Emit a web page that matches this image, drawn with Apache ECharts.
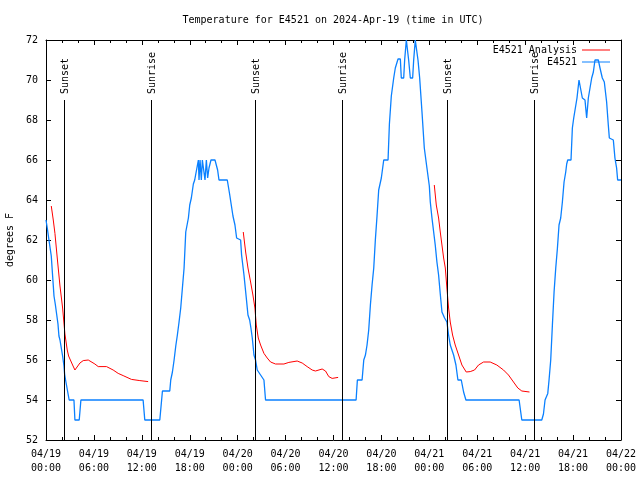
<!DOCTYPE html>
<html>
<head>
<meta charset="utf-8">
<script src="https://cdn.jsdelivr.net/npm/echarts@6/dist/echarts.min.js"></script>
<style>html,body{margin:0;padding:0;background:#fff;}#c{width:640px;height:480px;}</style>
</head>
<body>
<div id="c"></div>
<script>
// Hours since 2024-04-19 00:00 UTC
var xTickLabels = ['04/19\n00:00','04/19\n06:00','04/19\n12:00','04/19\n18:00','04/20\n00:00','04/20\n06:00','04/20\n12:00','04/20\n18:00','04/21\n00:00','04/21\n06:00','04/21\n12:00','04/21\n18:00','04/22\n00:00'];
var yTicks = [52,54,56,58,60,62,64,66,68,70,72];

var sunTimes = [2.22, 13.15, 26.16, 37.08, 50.2, 61.08];
var sunLabels = ['Sunset','Sunrise','Sunset','Sunrise','Sunset','Sunrise'];

var obsTimes = [0,0.16,0.37,0.66,0.83,1.0,1.16,1.33,1.5,1.62,1.75,1.95,2.08,2.25,2.33,2.45,2.7,2.9,3.5,3.62,4.16,4.37,12.16,12.37,14.25,14.58,15.5,15.62,15.83,16.04,16.25,16.45,16.66,16.87,17.08,17.29,17.5,17.83,18.0,18.2,18.45,18.62,18.83,19.08,19.16,19.29,19.45,19.58,19.79,19.91,20.08,20.24,20.41,20.66,21.16,21.49,21.66,22.7,22.99,23.2,23.41,23.66,23.87,24.37,24.49,24.79,25.08,25.29,25.5,25.66,25.83,26.04,26.24,26.45,26.87,27.29,27.49,38.83,38.99,39.58,39.79,40.0,40.2,40.41,40.62,40.83,41.04,41.24,41.45,41.66,41.99,42.29,42.83,43.0,43.24,43.54,43.74,44.08,44.37,44.49,44.79,44.91,45.12,45.29,45.41,45.62,45.91,46.04,46.24,46.37,46.58,46.79,47.08,47.37,47.7,48.0,48.12,48.33,48.54,48.74,48.95,49.16,49.37,49.58,49.91,50.2,50.41,50.62,51.04,51.33,51.58,52.0,52.29,52.58,59.24,59.58,62.08,62.29,62.49,62.83,62.99,63.2,63.41,63.62,63.83,64.04,64.24,64.45,64.66,64.87,65.08,65.2,65.33,65.74,65.91,66.08,66.33,66.49,66.74,66.99,67.16,67.49,67.7,67.91,68.12,68.33,68.54,68.74,69.16,69.37,69.66,69.91,70.2,70.41,70.54,71.04,71.24,71.45,71.58,72];
var obsTemps = [63,62.6,62,61.2,60.2,59.2,58.8,58.3,57.8,57.2,57,56.9,56.2,55.7,55.3,55,54.9,54,54,53,53,54,54,53,53,54.45,54.45,55,55.4,56,56.7,57.25,57.9,58.6,59.6,60.6,62.4,63.1,63.75,64.1,64.8,65,65,66,65,66,65,66,66,65,66,65.1,65.6,66,66,65.5,65,65,64.3,63.75,63.2,62.75,62.1,62,61.25,60.25,59.1,58.25,58,57.6,57.1,56.25,56,55.5,55.25,55,54,54,55,55,56,56.25,56.75,57.5,58.75,59.75,60.6,62,63.2,64.5,65.1,66,66,67.8,69.2,70.1,70.6,71.05,71.05,70.1,70.1,71,72,72,71,70.1,70.1,71,72,72,71,70.1,68.4,66.6,65.6,64.7,63.9,63.1,63,61.75,60.9,60.25,59.3,58.4,58.1,57.9,57.25,56.75,56.25,55.75,55,55,54.4,54,54,53,53,53.3,54,54.33,55,56,57.75,59.4,60.6,61.6,62.75,63.1,63.9,64.9,65.4,65.8,66,66,67.6,68.1,68.1,69.1,70,70,69.1,69,68.1,69.1,69.6,70.1,70.4,71,71,70.6,70.1,69.9,68.9,67.75,67.1,67,66.1,65.6,65,65];

var anaTimes1 = [0.66,0.91,1.12,1.41,1.75,2.08,2.37,2.66,2.83,3.33,3.62,4.25,4.66,5.29,6.12,6.54,7.58,8.41,9.04,9.66,10.7,11.75,12.79];
var anaTemps1 = [63.7,63,62.33,61.1,59.7,58.6,57.3,56.5,56.2,55.75,55.5,55.85,55.97,56,55.8,55.67,55.67,55.5,55.33,55.22,55.03,54.97,54.92];
var anaTimes2 = [24.7,25.0,25.29,25.62,25.91,26.16,26.33,26.58,26.87,27.29,27.7,28.12,28.74,29.79,30.41,31.45,32.08,32.7,33.33,33.74,34.58,35.0,35.41,35.83,36.58];
var anaTemps2 = [62.4,61.4,60.6,59.9,59.25,58.6,57.75,57.1,56.75,56.33,56.1,55.9,55.8,55.8,55.88,55.95,55.85,55.67,55.5,55.45,55.55,55.45,55.17,55.08,55.13];
var anaTimes3 = [48.62,48.87,49.16,49.37,49.58,49.79,50.0,50.2,50.41,50.62,50.91,51.24,51.66,52.08,52.62,53.12,53.66,54.16,54.79,55.62,56.45,56.66,57.29,57.91,58.54,59.08,59.58,60.54];
var anaTemps3 = [64.75,63.75,63.1,62.4,61.75,61.1,60.6,59.6,58.6,57.9,57.25,56.75,56.25,55.75,55.4,55.42,55.5,55.75,55.9,55.9,55.75,55.67,55.5,55.25,54.9,54.6,54.45,54.4];

var FONT = '"DejaVu Sans Mono", "Liberation Mono", monospace';
var BLUE = '#0a80ff', RED = '#ff0000';

function zip(a, b) { return a.map(function (t, i) { return [t, b[i]]; }); }
var obsData = zip(obsTimes, obsTemps);
var anaData = zip(anaTimes1, anaTemps1).concat([[12.9, '-']], zip(anaTimes2, anaTemps2), [[36.7, '-']], zip(anaTimes3, anaTemps3));
var sunData = sunTimes.map(function (t, i) { return [t, sunLabels[i]]; });

var chart = echarts.init(document.getElementById('c'), null, {renderer: 'canvas'});
var baseX = {
  type: 'value', min: 0, max: 72, interval: 6,
  axisLine: {show: true, onZero: false, lineStyle: {color: '#000', width: 1}},
  axisTick: {show: true, inside: true, length: 5, lineStyle: {color: '#000'}},
  minorTick: {show: true, splitNumber: 3, length: 3, lineStyle: {color: '#000'}},
  splitLine: {show: false}
};
var baseY = {
  type: 'value', min: 52, max: 72, interval: 2,
  axisLine: {show: true, onZero: false, lineStyle: {color: '#000', width: 1}},
  axisTick: {show: true, inside: true, length: 5, lineStyle: {color: '#000'}},
  splitLine: {show: false}
};
var option = {
  animation: false,
  backgroundColor: '#fff',
  title: {
    text: 'Temperature for E4521 on 2024-Apr-19 (time in UTC)',
    left: 328, top: 10, textAlign: 'center',
    textStyle: {fontFamily: FONT, fontSize: 10, fontWeight: 'normal', color: '#000'}
  },
  legend: [
    {data: ['E4521 Analysis'], right: 30, top: 45, orient: 'vertical', align: 'right', icon: 'rect', itemWidth: 28, itemHeight: 1,
     textStyle: {fontFamily: FONT, fontSize: 10, color: '#000'}, padding: 0, itemGap: 0},
    {data: ['E4521'], right: 30, top: 57, orient: 'vertical', align: 'right', icon: 'rect', itemWidth: 28, itemHeight: 1,
     textStyle: {fontFamily: FONT, fontSize: 10, color: '#000'}, padding: 0, itemGap: 0}
  ],
  grid: {left: 46, right: 19, top: 40, bottom: 40, containLabel: false, outerBoundsMode: 'none'},
  xAxis: [
    Object.assign({}, baseX, {position: 'bottom',
      axisLabel: {show: true, margin: 7, lineHeight: 14, fontFamily: FONT, fontSize: 10, color: '#000',
        formatter: function (v) { return xTickLabels[Math.round(v / 6)]; }}}),
    Object.assign({}, baseX, {position: 'top', axisLabel: {show: false}})
  ],
  yAxis: [
    Object.assign({}, baseY, {position: 'left', name: 'degrees F', nameLocation: 'middle', nameRotate: 90, nameGap: 31,
      nameTextStyle: {fontFamily: FONT, fontSize: 10, color: '#000'},
      axisLabel: {show: true, margin: 8, fontFamily: FONT, fontSize: 10, color: '#000',
        formatter: function (v) { return yTicks.indexOf(v) >= 0 ? String(v) : ''; }}}),
    Object.assign({}, baseY, {position: 'right', axisLabel: {show: false}})
  ],
  series: [
    {
      name: 'E4521 Analysis', type: 'line', data: anaData, showSymbol: false, connectNulls: false,
      lineStyle: {color: RED, width: 1}, itemStyle: {color: RED}, z: 3
    },
    {
      name: 'E4521', type: 'line', data: obsData, showSymbol: false,
      lineStyle: {color: BLUE, width: 1.3}, itemStyle: {color: BLUE}, z: 2
    },
    {
      name: 'sun', type: 'custom', data: sunData, z: 4, silent: true,
      encode: {x: 0},
      renderItem: function (params, api) {
        var top = api.coord([api.value(0), 69]);
        var bot = api.coord([api.value(0), 52]);
        var lbl = sunLabels[params.dataIndex];
        return {
          type: 'group',
          children: [
            {type: 'line', shape: {x1: Math.round(top[0]) + 0.5, y1: top[1], x2: Math.round(top[0]) + 0.5, y2: bot[1]},
             style: {stroke: '#000', lineWidth: 1}},
            {type: 'text', x: Math.round(top[0]) + 1, y: top[1] - 6, rotation: Math.PI / 2,
             style: {text: lbl, textAlign: 'left', textVerticalAlign: 'middle', font: '10px ' + FONT, fill: '#000'}}
          ]
        };
      }
    }
  ]
};
chart.setOption(option);
</script>
</body>
</html>
